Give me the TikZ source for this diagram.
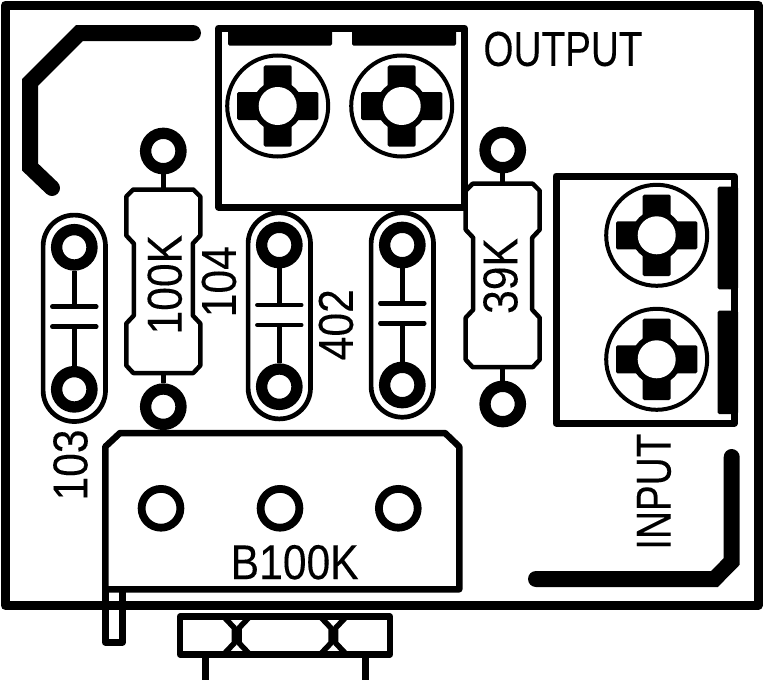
\documentclass[tikz,border=0pt]{standalone}
\usepackage{fontspec}
\newfontfamily\silkfont[FakeStretch=0.87,FakeBold=0.15]{Liberation Sans}
\newfontfamily\silkwide[FakeStretch=0.79,FakeBold=0.15]{Liberation Sans}
\tikzset{
    trace/.style={line width=16, line cap=round, line join=miter},
    outline/.style={line width=4.5, line join=round},
    boxline/.style={line width=7, line join=round},
    wire/.style={line width=4.5},
    plate/.style={line width=4.5, line cap=round},
    pad/.style={circle, draw, fill=white, line width=11.3, minimum size=35.4, inner sep=0},
    hole/.style={circle, draw, fill=white, line width=7.8, minimum size=38.8, inner sep=0},
    silk/.style={font=\silkfont\fontsize{49}{49}\selectfont, inner sep=0},
    silkcaps/.style={font=\silkwide\fontsize{49}{49}\selectfont, inner sep=0},
}

\begin{document}
\begin{tikzpicture}[x=1pt, y=-1pt]

        \useasboundingbox (0,0) rectangle (780,680);

        % Board edge
        \draw[line width=9, line join=round] (5.5,5) rectangle (758,605.5);

        % Ground traces
        \draw[trace] (193,33) -- (79.5,33) -- (30,82.5) -- (30,167) -- (52,188);
        \draw[trace] (731.7,457) -- (731.7,561.5) -- (714.5,579) -- (536,579);

        % Terminal blocks
        \draw[boxline] (218.5,28) rectangle (464.5,207);
        \draw[boxline] (556,176) rectangle (734.5,423);
        \fill[rounded corners=1.5] (228,26) rectangle (332,45.7);
        \fill[rounded corners=1.5] (352,26) rectangle (456,45.7);
        \fill[rounded corners=1.5] (717.7,186.7) rectangle (738,289.3);
        \fill[rounded corners=1.5] (717.7,310.7) rectangle (738,414);

        \foreach \x/\y in {277.7/106, 401.7/106, 656.7/235.3, 656.7/359.3}
            {
                % Screw head
                \draw[line width=4] (\x,\y) circle (50.5);
                \fill[rounded corners=1.5] (\x-14,\y-40.7) rectangle (\x+14,\y+40.7);
                \fill[rounded corners=1.5] (\x-40.7,\y-14) rectangle (\x+40.7,\y+14);
                \fill (\x,\y) circle (25);
                \fill[white] (\x,\y) circle (19);
            }

        % Resistors
        \foreach \x/\y in {163.3/189.5, 502.7/183.7}
            {
                \draw[outline] (\x-29,\y) ++(-1,0) -- (\x+30,\y) -- (\x+37,\y+7) -- (\x+37,\y+46)
                    -- (\x+29.5,\y+54) -- (\x+29.5,\y+126) -- (\x+37,\y+134) -- (\x+37,\y+176)
                    -- (\x+30,\y+183.5) -- (\x-30,\y+183.5) -- (\x-37,\y+176) -- (\x-37,\y+134)
                    -- (\x-29.5,\y+126) -- (\x-29.5,\y+54) -- (\x-37,\y+46) -- (\x-37,\y+7) -- cycle;
            }
        \node[pad] (padAtop) at (163.3,151) {};
        \node[pad] (padAbot) at (163.3,406.7) {};
        \node[pad] (padBtop) at (502.7,150) {};
        \node[pad] (padBbot) at (502.7,404) {};
        \coordinate (resAtop) at (163.3,189.5);
        \coordinate (resAbot) at (163.3,373);
        \coordinate (resBtop) at (502.7,183.7);
        \coordinate (resBbot) at (502.7,367.2);
        \draw[wire] (padAtop) -- (resAtop);
        \draw[wire] (padAbot) -- (resAbot);
        \draw[wire] (padBtop) -- (resBtop);
        \draw[wire] (padBbot) -- (resBbot);

        % Capacitors
        \foreach \i/\x/\ytop/\ybot/\ya/\yb in {1/74.3/247.3/389.3/306.7/326.7, 2/279.3/245/386.7/305/325, 3/402.3/245/385/303.3/323.3}
            {
                \draw[line width=4.7, rounded corners=31] (\x-31.2,\ytop-32.2) rectangle (\x+31.2,\ybot+32.2);
                \node[pad] (capTop\i) at (\x,\ytop) {};
                \node[pad] (capBot\i) at (\x,\ybot) {};
                \coordinate (plateA\i) at (\x,\ya);
                \coordinate (plateB\i) at (\x,\yb);
                \draw[wire] (capTop\i) -- (plateA\i);
                \draw[wire] (capBot\i) -- (plateB\i);
                \draw[plate] (\x-22,\ya) -- (\x+22,\ya);
                \draw[plate] (\x-22,\yb) -- (\x+22,\yb);
            }

        % Potentiometer
        \draw[line width=6.5, line join=round] (120,433) -- (445,433) -- (459.3,446.7) -- (459.3,589.3) -- (105.3,589.3) -- (105.3,446.7) -- cycle;
        \draw[line width=7, line join=round] (105.3,589.3) -- (105.3,642) -- (122.5,642) -- (122.5,592);
        \node[hole] (potA) at (161,508.3) {};
        \node[hole] (potB) at (280,508.3) {};
        \node[hole] (potC) at (398.3,508.3) {};

        % Knob
        \draw[line width=6.5, line join=round] (180,616.7) rectangle (390,654.3);
        \foreach \x in {236.7,333.3}
            {
                \draw[line width=5.5, line join=round] (\x-13,616.7) -- (\x-2.3,628) -- (\x-2.3,643) -- (\x-13,654.3);
                \draw[line width=5.5, line join=round] (\x+13,616.7) -- (\x+2.3,628) -- (\x+2.3,643) -- (\x+13,654.3);
            }
        \draw[line width=7] (205.8,654) -- (205.8,680);
        \draw[line width=7] (365.8,654) -- (365.8,680);

        % Labels
        \node[silkcaps] (lblOut) at (563,49) {OUTPUT};
        \node[silk] (lblPot) at (294.7,562.3) {B100K};
        \node[silkcaps, rotate=90] (lblIn) at (654,491.7) {INPUT};
        \node[silk, rotate=90] (lblCapA) at (70.5,465) {103};
        \node[silk, rotate=90] (lblResA) at (164.8,284.7) {100K};
        \node[silk, rotate=90] (lblCapB) at (219,281.7) {104};
        \node[silk, rotate=90] (lblCapC) at (336,324.7) {402};
        \node[silk, rotate=90] (lblResB) at (500.5,276) {39K};

    \end{tikzpicture}
\end{document}
